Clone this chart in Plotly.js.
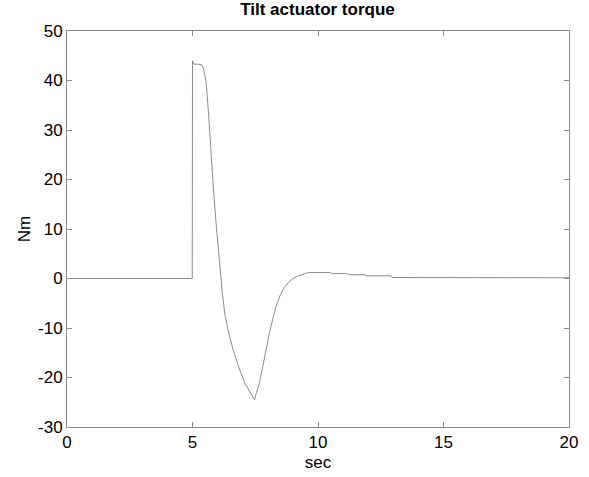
<!DOCTYPE html>
<html>
<head>
<meta charset="utf-8">
<script src="https://cdn.plot.ly/plotly-3.0.1.min.js"></script>
<style>html,body{margin:0;padding:0;background:#fff;}#chart{width:589px;height:477px;}</style>
</head>
<body>
<div id="chart"></div>
<script>
const timeSec = [0, 4.99, 5.0, 5.05, 5.2, 5.36, 5.43, 5.54, 5.63, 5.72, 5.85, 5.95, 6.03, 6.10, 6.19, 6.29, 6.45, 6.63, 6.85, 7.09, 7.3, 7.47, 7.55, 7.66, 7.8, 7.92, 8.07, 8.22, 8.35, 8.49, 8.65, 8.82, 9.0, 9.2, 9.35, 9.5, 9.65, 10.0, 10.5, 10.55, 11.14, 11.2, 11.87, 11.9, 12.9, 12.95, 20];
const torqueNm = [0, 0, 44.0, 43.3, 43.3, 43.2, 42.5, 39.8, 34, 26.3, 17, 10.5, 6.0, 1.5, -3.0, -7.2, -11.2, -14.6, -18.0, -21.2, -23.2, -24.5, -23.0, -21.2, -17.8, -14.4, -10.9, -7.7, -5.3, -3.4, -1.9, -0.8, 0.0, 0.5, 0.85, 1.05, 1.2, 1.25, 1.2, 1.0, 1.0, 0.77, 0.77, 0.55, 0.55, 0.2, 0.15];
const xTicks = [0, 5, 10, 15, 20];
const yTicks = [-30, -20, -10, 0, 10, 20, 30, 40, 50];
const chartTitle = 'Tilt actuator torque';
const xLabel = 'sec';
const yLabel = 'Nm';

const font = 'Arial, "Liberation Sans", sans-serif';
const axisCommon = {
  showgrid: false, zeroline: false, showline: true, linecolor: '#8a8a8a', linewidth: 1,
  mirror: 'ticks', ticks: 'inside', ticklen: 5, tickcolor: '#8a8a8a', tickwidth: 1,
  tickfont: {family: font, size: 17, color: '#000'}
};
Plotly.newPlot('chart', [{
  x: timeSec, y: torqueNm, type: 'scatter', mode: 'lines',
  line: {color: '#8c8c8c', width: 1}, hoverinfo: 'skip'
}], {
  width: 589, height: 477,
  margin: {l: 67, r: 20, t: 31, b: 50},
  paper_bgcolor: '#fff', plot_bgcolor: '#fff',
  showlegend: false,
  title: {text: '<b>' + chartTitle + '</b>', font: {family: font, size: 17, color: '#000'}, x: 0.539, xanchor: 'center', y: 0.993, yanchor: 'top'},
  xaxis: Object.assign({}, axisCommon, {range: [0, 20], tickvals: xTicks, ticktext: xTicks.map(String),
    title: {text: xLabel, font: {family: font, size: 17, color: '#000'}, standoff: 4}}),
  yaxis: Object.assign({}, axisCommon, {range: [-30, 50], tickvals: yTicks, ticktext: yTicks.map(String),
    title: {text: yLabel, font: {family: font, size: 17, color: '#000'}, standoff: 3}})
}, {staticPlot: true});
</script>
</body>
</html>
